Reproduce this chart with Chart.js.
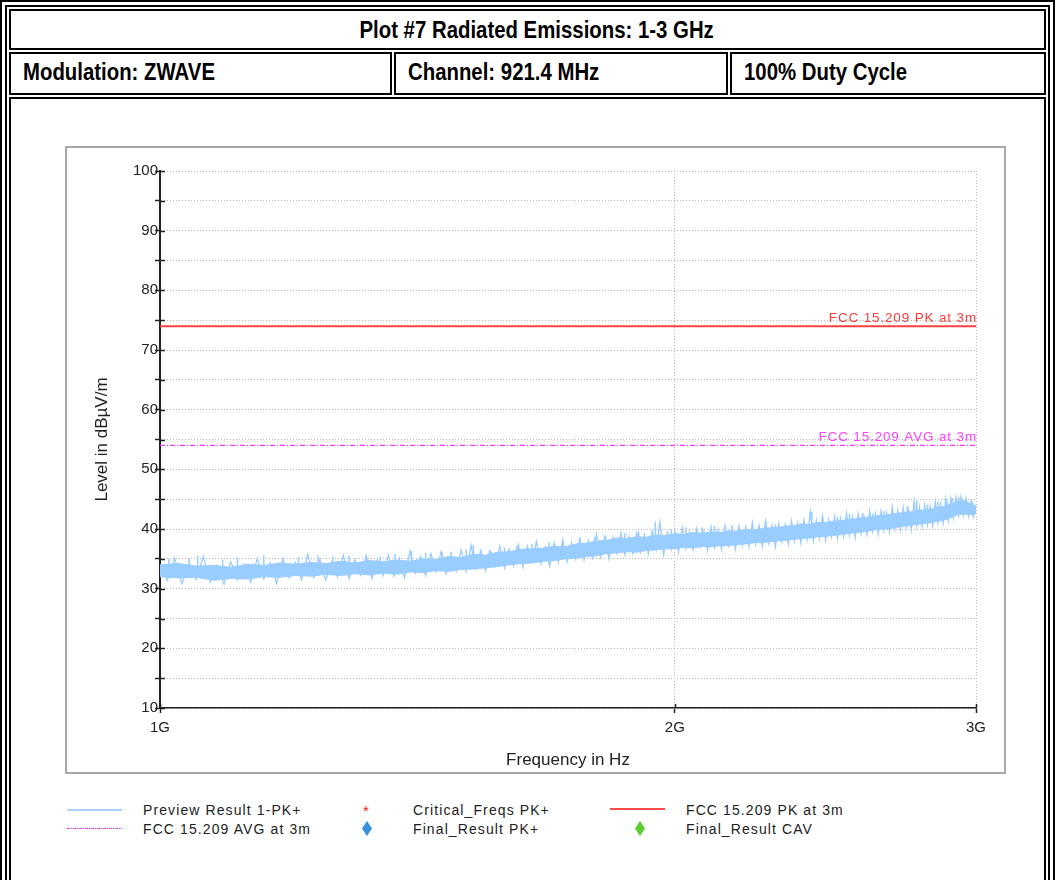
<!DOCTYPE html>
<html><head><meta charset="utf-8">
<script src="https://cdn.jsdelivr.net/npm/chart.js@4"></script>
<style>
html,body{margin:0;padding:0;background:#fff;}
body{width:1055px;height:880px;overflow:hidden;position:relative;font-family:"Liberation Sans",Arial,sans-serif;}
.outer{position:absolute;left:0;top:0;width:1041px;height:900px;border:7px double #000;}
.cell{position:absolute;box-sizing:border-box;border:2px solid #000;background:#fff;
  font-family:"Liberation Sans",Arial,sans-serif;font-weight:bold;font-size:21px;color:#000;white-space:nowrap;}
.cell span{display:inline-block;transform:scale(0.97,1.15);}
.hdr{padding-left:12px;line-height:36px;}
.hdr span{transform-origin:left center;}
#frame{position:absolute;left:65px;top:146px;width:937px;height:624px;border:2px solid #a8a8a8;}
#wrap{position:absolute;left:67px;top:148px;width:937px;height:624px;}
.lg{position:absolute;font-family:"Liberation Sans",Arial,sans-serif;font-size:14px;letter-spacing:1.1px;color:#222;line-height:16px;white-space:nowrap;}
.ln{position:absolute;}
.dia{position:absolute;width:10px;height:15px;clip-path:polygon(50% 0,100% 50%,50% 100%,0 50%);}
</style></head>
<body>
<div class="outer"></div>
<div class="cell" style="left:9px;top:9px;width:1037px;height:41px;text-align:center;line-height:37px;padding-left:18px;"><span>Plot #7 Radiated Emissions: 1-3 GHz</span></div>
<div class="cell hdr" style="left:9px;top:52px;width:383px;height:43px;"><span>Modulation: ZWAVE</span></div>
<div class="cell hdr" style="left:394px;top:52px;width:334px;height:43px;"><span>Channel: 921.4 MHz</span></div>
<div class="cell hdr" style="left:730px;top:52px;width:316px;height:43px;"><span>100% Duty Cycle</span></div>
<div class="cell" style="left:9px;top:97px;width:1037px;height:820px;"></div>
<div id="frame"></div>
<div id="wrap"><canvas id="c" width="937" height="624"></canvas></div>

<div class="ln" style="left:67px;top:809px;width:55px;height:2px;background:#a9d3ff;"></div>
<div class="lg" style="left:143px;top:802px;">Preview Result 1-PK+</div>
<div class="lg" style="left:363px;top:803px;color:#ff2020;font-size:15px;">*</div>
<div class="lg" style="left:413px;top:802px;">Critical_Freqs PK+</div>
<div class="ln" style="left:610px;top:808px;width:55px;height:2px;background:#ff4a4a;"></div>
<div class="lg" style="left:686px;top:802px;">FCC 15.209 PK at 3m</div>

<div class="ln" style="left:67px;top:828px;width:55px;height:1px;background:repeating-linear-gradient(to right,#ff33ff 0 3px,#ffffff 3px 4px,#ff33ff 4px 5px,#ffffff 5px 6px);"></div>
<div class="lg" style="left:143px;top:821px;">FCC 15.209 AVG at 3m</div>
<div class="dia" style="left:362px;top:821px;background:#3a92dd;"></div>
<div class="lg" style="left:413px;top:821px;">Final_Result PK+</div>
<div class="dia" style="left:635px;top:821px;background:#5ccc2e;"></div>
<div class="lg" style="left:686px;top:821px;">Final_Result CAV</div>

<script>
// ---- data ----
// core band envelope of the preview trace (every 25 MHz)
const freqsMHz = [1000,1025,1050,1075,1100,1125,1150,1175,1200,1225,1250,1275,1300,1325,1350,1375,1400,1425,1450,1475,
  1500,1525,1550,1575,1600,1625,1650,1675,1700,1725,1750,1775,1800,1825,1850,1875,1900,1925,1950,1975,
  2000,2025,2050,2075,2100,2125,2150,2175,2200,2225,2250,2275,2300,2325,2350,2375,2400,2425,2450,2475,
  2500,2525,2550,2575,2600,2625,2650,2675,2700,2725,2750,2775,2800,2825,2850,2875,2900,2925,2950,2975,3000];
const traceHi = [34.0,34.2,33.8,33.9,33.6,34.1,33.9,34.3,34.1,34.4,34.2,34.6,34.3,34.7,34.5,34.8,34.6,35.0,34.9,35.4,
  35.2,35.8,35.6,36.1,36.2,36.6,36.7,36.8,37.1,37.0,37.5,37.6,38.0,38.1,38.5,38.4,38.7,38.6,39.0,38.9,
  39.2,39.1,39.4,39.3,39.5,39.4,39.7,39.6,39.9,39.8,40.1,40.2,40.3,40.5,40.6,40.8,40.8,41.1,41.1,41.3,
  41.4,41.6,41.7,41.9,42.0,42.2,42.3,42.5,42.6,42.8,42.9,43.1,43.2,43.4,43.6,43.8,44.2,44.6,44.8,44.3,43.9];
const traceLo = [32.0,31.8,31.9,31.4,31.7,31.6,32.0,31.9,32.2,32.1,32.4,32.2,32.5,32.3,32.6,32.4,32.8,32.7,33.0,32.9,
  33.2,33.3,33.5,33.7,34.0,34.2,34.3,34.6,34.7,35.0,35.1,35.4,35.5,35.9,36.0,36.2,36.1,36.4,36.5,36.7,
  36.7,36.9,36.8,37.1,37.0,37.2,37.2,37.4,37.5,37.7,37.7,37.9,38.0,38.1,38.3,38.4,38.5,38.7,38.8,38.9,
  39.1,39.2,39.4,39.5,39.7,39.9,40.0,40.1,40.3,40.5,40.6,40.8,40.9,41.1,41.3,41.5,41.9,42.4,42.5,42.4,42.6];
// preview trace samples (every 10 MHz)
const sweepMHz = [1000,1010,1020,1030,1040,1050,1060,1070,1080,1090,1100,1110,1120,1130,1140,1150,1160,1170,1180,1190,
  1200,1210,1220,1230,1240,1250,1260,1270,1280,1290,1300,1310,1320,1330,1340,1350,1360,1370,1380,1390,
  1400,1410,1420,1430,1440,1450,1460,1470,1480,1490,1500,1510,1520,1530,1540,1550,1560,1570,1580,1590,
  1600,1610,1620,1630,1640,1650,1660,1670,1680,1690,1700,1710,1720,1730,1740,1750,1760,1770,1780,1790,
  1800,1810,1820,1830,1840,1850,1860,1870,1880,1890,1900,1910,1920,1930,1940,1950,1960,1970,1980,1990,
  2000,2010,2020,2030,2040,2050,2060,2070,2080,2090,2100,2110,2120,2130,2140,2150,2160,2170,2180,2190,
  2200,2210,2220,2230,2240,2250,2260,2270,2280,2290,2300,2310,2320,2330,2340,2350,2360,2370,2380,2390,
  2400,2410,2420,2430,2440,2450,2460,2470,2480,2490,2500,2510,2520,2530,2540,2550,2560,2570,2580,2590,
  2600,2610,2620,2630,2640,2650,2660,2670,2680,2690,2700,2710,2720,2730,2740,2750,2760,2770,2780,2790,
  2800,2810,2820,2830,2840,2850,2860,2870,2880,2890,2900,2910,2920,2930,2940,2950,2960,2970,2980,2990,3000];
const sweepLevel = [34.0,31.4,35.1,30.8,34.2,31.5,35.4,31.1,33.9,30.8, 34.5,31.5,34.1,31.1,35.1,31.6,34.4,30.9,35.0,31.8,
  34.4,31.5,35.7,31.9,34.9,31.4,34.5,32.0,35.6,31.7, 34.9,32.3,35.6,31.7,34.9,32.2,35.6,32.1,35.1,31.8,
  36.3,32.6,35.4,32.2,35.9,32.8,36.2,32.5,35.6,32.9, 36.5,32.9,37.3,33.3,36.4,33.0,36.3,33.7,37.1,33.5,
  36.6,33.8,37.4,33.6,37.1,34.4,37.9,34.2,37.0,33.8, 37.7,34.5,38.2,34.5,37.7,35.0,38.4,34.8,38.1,35.2,
  39.1,35.3,38.6,35.0,38.6,35.9,39.3,35.7,38.7,35.9, 39.3,36.1,39.0,35.8,39.6,36.5,41.1,35.7,39.4,36.5,
  39.7,36.1,40.2,36.7,39.6,36.5,40.1,37.0,39.6,36.4, 40.4,36.9,39.8,36.6,40.6,37.2,40.0,36.6,40.5,37.2,
  40.2,37.1,41.1,37.5,40.6,37.1,41.3,37.6,40.6,37.0, 40.9,37.8,40.7,37.5,41.4,38.0,41.0,37.6,41.5,38.2,
  42.9,38.0,41.4,38.4,42.1,38.1,41.5,38.7,42.1,38.4, 41.8,38.7,42.6,39.0,42.1,38.6,42.5,39.2,42.1,39.1,
  43.0,39.6,42.6,39.2,43.0,39.7,42.7,39.5,43.7,40.0, 43.1,39.9,43.6,40.2,43.1,39.9,44.7,40.5,43.7,40.4,
  44.0,40.7,43.8,40.5,44.6,41.1,44.2,41.0,45.0,41.4, 45.1,41.9,45.3,42.3,45.4,42.3,45.1,42.2,44.6,42.0,43.8];
// isolated spikes: frequency (MHz), base level, peak level (dBµV/m)
const spikeFreqsMHz = [1012,1040,1052,1088,1110,1150,1180,1205,1237,1262,1290,1320,1345,1372,1403,1430,1462,1480,1510,1525,
  1540,1558,1590,1617,1650,1688,1720,1760,1795,1822,1860,1870,1905,1948,1990,2030,2075,2110,2160,2200,
  2260,2290,2320,2370,2405,2440,2490,2530,2575,2610,2650,2700,2735,2770,2810,2850,2885,2905,2930,2960,2985];
const spikeBase = [32.8,32.8,32.7,32.5,32.6,32.9,33.0,33.1,33.2,33.3,33.4,33.5,33.6,33.7,33.8,33.9,34.1,34.2,34.4,34.5,
  34.6,34.8,35.1,35.3,35.6,35.8,36.0,36.4,36.7,37.0,37.2,37.3,37.4,37.7,37.9,38.0,38.2,38.3,38.4,38.7,
  38.9,39.0,39.2,39.5,39.6,39.9,40.1,40.3,40.6,40.9,41.1,41.4,41.6,41.9,42.1,42.4,42.8,43.1,43.5,43.5,43.2];
const spikePeak = [35.0,35.2,35.5,34.9,35.2,35.6,35.1,35.3,35.6,35.4,35.5,35.6,35.4,35.8,36.3,36.0,36.2,36.2,36.6,37.3,
  36.5,36.3,36.9,37.2,37.5,37.8,38.0,38.4,38.7,38.9,39.0,39.3,39.6,41.2,40.0,40.3,40.3,40.5,40.6,40.6,
  41.3,40.8,40.6,41.0,42.9,42.0,42.1,42.5,42.7,42.6,43.0,43.2,43.8,44.8,44.1,44.6,45.0,45.2,45.4,45.1,44.6];

const pkLimit = 74;   // FCC 15.209 PK at 3m
const avgLimit = 54;  // FCC 15.209 AVG at 3m
const limitRangeMHz = [1000, 3000];
const xTickValuesMHz = [1000, 2000, 3000];
const xTickLabels = ['1G', '2G', '3G'];
const yMin = 10, yMax = 100, yStep = 5;

// ---- build ----
const MHz = 1e6;
const hiPts = freqsMHz.map((f, i) => ({x: f * MHz, y: traceHi[i]}));
const loPts = freqsMHz.map((f, i) => ({x: f * MHz, y: traceLo[i]}));
const sweepPts = sweepMHz.map((f, i) => ({x: f * MHz, y: sweepLevel[i]}));
const segPts = (fs, a, b) => {
  const out = [];
  fs.forEach((f, i) => { out.push({x: f * MHz, y: a[i]}, {x: f * MHz, y: b[i]}, {x: f * MHz, y: null}); });
  return out;
};
const TRACE = '#99ccff';
const FONT = '"Liberation Sans", Arial, sans-serif';

const innerTicks = {
  id: 'innerTicks',
  afterDraw(chart) {
    const {ctx, chartArea, scales} = chart;
    ctx.save();
    ctx.strokeStyle = '#222';
    ctx.lineWidth = 1.5;
    ctx.beginPath();
    scales.y.ticks.forEach(t => {
      const y = Math.round(scales.y.getPixelForValue(t.value)) + 0.5;
      ctx.moveTo(chartArea.left, y); ctx.lineTo(chartArea.left + 5, y);
    });
    scales.x.ticks.forEach(t => {
      const x = Math.round(scales.x.getPixelForValue(t.value)) + 0.5;
      ctx.moveTo(x, chartArea.bottom); ctx.lineTo(x, chartArea.bottom - 4);
    });
    ctx.stroke();
    // limit line labels
    ctx.font = '13.5px ' + FONT;
    ctx.textAlign = 'right';
    ctx.textBaseline = 'alphabetic';
    try { ctx.letterSpacing = '0.85px'; } catch (e) {}
    ctx.fillStyle = '#ff3a3a';
    ctx.fillText('FCC 15.209 PK at 3m', chartArea.right + 1, scales.y.getPixelForValue(pkLimit) - 4);
    ctx.fillStyle = '#ff40ff';
    ctx.fillText('FCC 15.209 AVG at 3m', chartArea.right + 1, scales.y.getPixelForValue(avgLimit) - 4);
    ctx.restore();
  }
};

new Chart(document.getElementById('c'), {
  type: 'line',
  data: {
    datasets: [
      {label: 'hi', data: hiPts, borderColor: TRACE, borderWidth: 1, pointRadius: 0, fill: false, tension: 0},
      {label: 'lo', data: loPts, borderColor: TRACE, backgroundColor: TRACE, borderWidth: 1, pointRadius: 0, fill: '-1', tension: 0},
      {label: 'Preview Result 1-PK+', data: sweepPts, borderColor: TRACE, borderWidth: 1.3, pointRadius: 0, fill: false, tension: 0},
      {label: 'spikes', data: segPts(spikeFreqsMHz, spikeBase, spikePeak), borderColor: TRACE, borderWidth: 1.5, pointRadius: 0, spanGaps: false, fill: false},
      {label: 'FCC 15.209 PK at 3m', data: limitRangeMHz.map(f => ({x: f * MHz, y: pkLimit})), borderColor: '#ff4040', borderWidth: 2, pointRadius: 0, fill: false},
      {label: 'FCC 15.209 AVG at 3m', data: limitRangeMHz.map(f => ({x: f * MHz, y: avgLimit})), borderColor: '#ff33ff', borderWidth: 1.2, borderDash: [5, 2, 1, 2], pointRadius: 0, fill: false}
    ]
  },
  options: {
    responsive: false,
    animation: false,
    events: [],
    layout: {padding: {top: 23, right: 28, left: 0, bottom: 0}},
    plugins: {legend: {display: false}, tooltip: {enabled: false}},
    scales: {
      x: {
        type: 'logarithmic',
        min: xTickValuesMHz[0] * MHz,
        max: xTickValuesMHz[xTickValuesMHz.length - 1] * MHz,
        afterBuildTicks: s => { s.ticks = xTickValuesMHz.map(v => ({value: v * MHz})); },
        afterFit: s => { s.height = 64; },
        ticks: {
          autoSkip: false, maxRotation: 0, padding: 6, color: '#222',
          font: {family: FONT, size: 15},
          callback: (v, i) => xTickLabels[i]
        },
        grid: {color: '#b5b5b5', lineWidth: 1, tickColor: '#222', tickLength: 5, tickWidth: 1.5},
        border: {display: true, color: '#222', width: 1.5, dash: [1, 2]},
        title: {display: true, text: 'Frequency in Hz', color: '#222', font: {family: FONT, size: 17}, padding: {top: 0, bottom: 1}}
      },
      y: {
        type: 'linear',
        min: yMin, max: yMax,
        afterFit: s => { s.width = 93; },
        ticks: {
          stepSize: yStep, autoSkip: false, padding: -3, color: '#222',
          font: {family: FONT, size: 15},
          callback: v => (v % 10 === 0 ? String(v) : '')
        },
        grid: {color: '#b5b5b5', lineWidth: 1, tickColor: '#222', tickLength: 5, tickWidth: 1.5},
        border: {display: true, color: '#222', width: 2, dash: [1, 2]},
        title: {display: true, text: 'Level in dBµV/m', color: '#222', font: {family: FONT, size: 17}, padding: {top: 25, bottom: 0}}
      }
    }
  },
  plugins: [innerTicks]
});
</script>
</body></html>
